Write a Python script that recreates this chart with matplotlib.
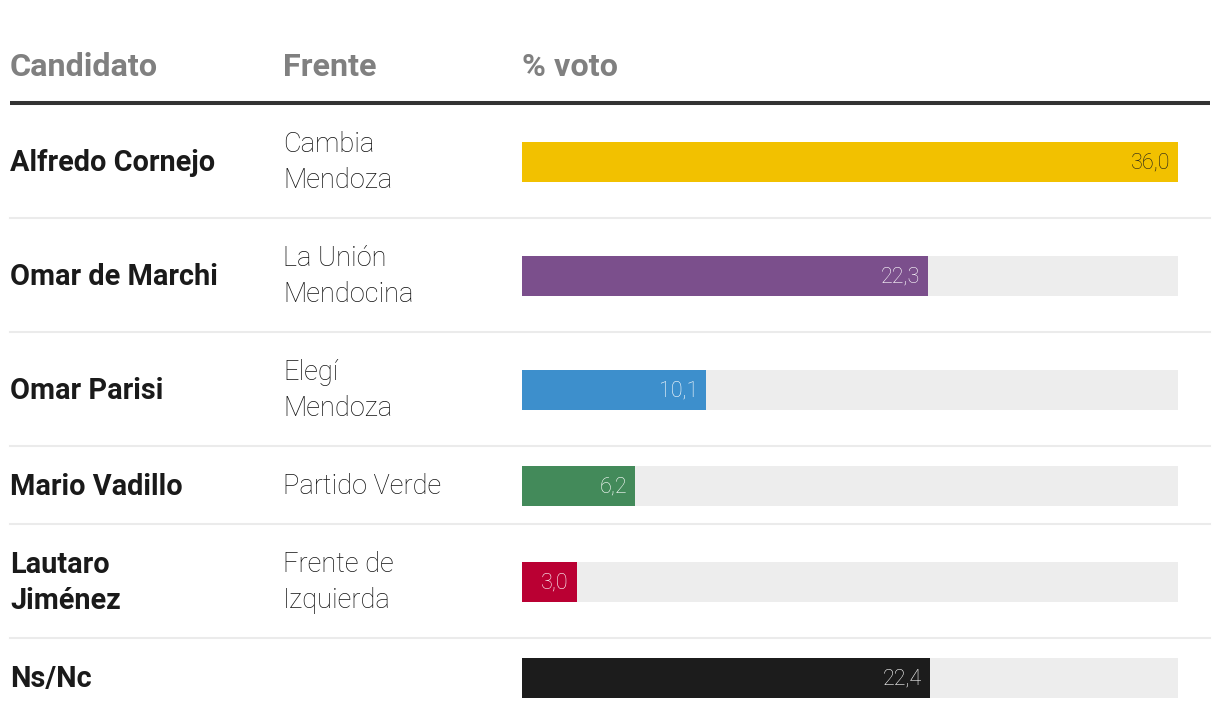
import matplotlib.pyplot as plt
from matplotlib.transforms import offset_copy

plt.rcParams['font.family'] = ['Roboto', 'DejaVu Sans']

candidatos = ["Alfredo Cornejo", "Omar de Marchi", "Omar Parisi", "Mario Vadillo", "Lautaro\nJiménez", "Ns/Nc"]
frentes = ["Cambia\nMendoza", "La Unión\nMendocina", "Elegí\nMendoza", "Partido Verde", "Frente de\nIzquierda", ""]
votos = [36.0, 22.3, 10.1, 6.2, 3.0, 22.4]
etiquetas = ["36,0", "22,3", "10,1", "6,2", "3,0", "22,4"]
colores = ["#f2c100", "#7b4f8c", "#3d8fcc", "#438a5a", "#ba0033", "#1c1c1c"]
color_texto = ["#1c1c1c", "white", "white", "white", "white", "white"]
encabezados = ["Candidato", "Frente", "% voto"]

W, H = 1220, 726
fig = plt.figure(figsize=(W / 100, H / 100), dpi=100)
fig.patch.set_facecolor('white')

# table axes in pixel units
ax = fig.add_axes([0, 0, 1, 1])
ax.set_xlim(0, W)
ax.set_ylim(H, 0)
ax.axis('off')

col_x = [10, 283, 522]
bar_left, bar_w = 522, 656
line_h = 36

# header
for x, t in zip(col_x, encabezados):
    ax.text(x, 67, t, fontsize=23.3, fontweight='bold', color='#808080', va='center', ha='left')
ax.plot([10, 1210], [103, 103], color='#333333', lw=2.9, solid_capstyle='butt')

# row layout from number of text lines
centros = []
inicio = 105
for i, (c, f) in enumerate(zip(candidatos, frentes)):
    n = max(len(c.split("\n")), len(f.split("\n")))
    alto = 78 + line_h * (n - 1)
    if i > 0:
        ax.plot([10, 1210], [inicio - 1, inicio - 1], color='#ebebeb', lw=1.5)
    centros.append(inicio + alto / 2)
    inicio += alto

for yc, c, f in zip(centros, candidatos, frentes):
    lines = c.split("\n")
    for k, ln in enumerate(lines):
        ax.text(col_x[0], yc + 1 + (k - (len(lines) - 1) / 2) * line_h, ln, fontsize=20.8,
                fontweight='bold', color='#1a1a1a', va='center', ha='left')
    lines = f.split("\n")
    for k, ln in enumerate(lines):
        ax.text(col_x[1], yc + 1 + (k - (len(lines) - 1) / 2) * line_h, ln, fontsize=19.6,
                fontweight='light', color='#111111', va='center', ha='left')

# bar axes
bx = fig.add_axes([bar_left / W, 0, bar_w / W, 1])
bx.set_xlim(0, max(votos))
bx.set_ylim(H, 0)
bx.axis('off')
bx.barh(centros, [max(votos)] * len(votos), height=40, color='#ededed', lw=0)
bx.barh(centros, votos, height=40, color=colores, lw=0)
for yc, v, t, tc in zip(centros, votos, etiquetas, color_texto):
    tr = offset_copy(bx.transData, fig=fig, x=-8, y=0, units='dots')
    bx.text(v, yc + 1, t, transform=tr, fontsize=15.5, fontweight='light', color=tc,
            ha='right', va='center')

fig.savefig('out.png', dpi=100, facecolor='white')
